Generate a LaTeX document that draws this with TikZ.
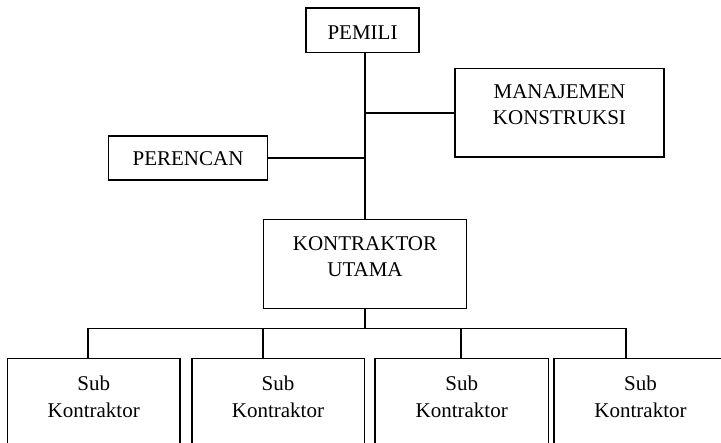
\documentclass[tikz,border=0pt]{standalone}
\usepackage{fontspec}
\setmainfont{Liberation Serif}
\begin{document}
\begin{tikzpicture}[x=1pt,y=-1pt,
  box/.style={draw,line width=1.8pt,rectangle,inner sep=0pt,outer sep=0pt,anchor=north west},
  lbl/.style={align=center,inner sep=0pt,font=\fontsize{21}{26.5}\selectfont},
  link/.style={line width=1.8pt}]
\useasboundingbox (0,0) rectangle (721,443);
\clip (0,0) rectangle (721,443);

% boxes
\node[box,minimum width=113pt,minimum height=44.5pt] (pemili) at (306,8) {};
\node[box,minimum width=209pt,minimum height=88.5pt] (mk) at (455,68.5) {};
\node[box,minimum width=159pt,minimum height=44pt] (per) at (108.5,136) {};
\node[box,minimum width=203pt,minimum height=89pt] (ku) at (263.5,219.5) {};
\node[box,minimum width=172.5pt,minimum height=120pt] (sub1) at (7.5,358.5) {};
\node[box,minimum width=172.5pt,minimum height=120pt] (sub2) at (192,358.5) {};
\node[box,minimum width=173.5pt,minimum height=120pt] (sub3) at (375,358.5) {};
\node[box,minimum width=173pt,minimum height=120pt] (sub4) at (554,358.5) {};

% texts
\node[lbl] (pemili-t) at (362.5,32.7) {PEMILI};
\node[lbl] (mk-t) at (559.5,104.7) {MANAJEMEN\\KONSTRUKSI};
\node[lbl] (per-t) at (188,158.8) {PERENCAN};
\node[lbl] (ku-t) at (365,256.7) {KONTRAKTOR\\UTAMA};
\node[lbl] (sub1-t) at (93.7,396.7) {Sub\\Kontraktor};
\node[lbl] (sub2-t) at (278,396.7) {Sub\\Kontraktor};
\node[lbl] (sub3-t) at (461.7,396.7) {Sub\\Kontraktor};
\node[lbl] (sub4-t) at (640.5,396.7) {Sub\\Kontraktor};

% main trunk and side branches
\draw[link] (pemili.south -| ku.north) -- (ku.north);
\draw[link] (mk.west) -- (mk.west -| ku.north);
\draw[link] (per.east) -- (per.east -| ku.north);

% bus to the sub-contractors
\coordinate (b1) at (88.3,328.5);
\coordinate (b2) at (263.3,328.5);
\coordinate (b3) at (461,328.5);
\coordinate (b4) at (625.7,328.5);
\draw[link] (ku.south) -- (ku.south |- b1);
\draw[link] (b1) -- (b4);
\draw[link] (b1) -- (b1 |- sub1.north);
\draw[link] (b2) -- (b2 |- sub2.north);
\draw[link] (b3) -- (b3 |- sub3.north);
\draw[link] (b4) -- (b4 |- sub4.north);
\end{tikzpicture}
\end{document}
